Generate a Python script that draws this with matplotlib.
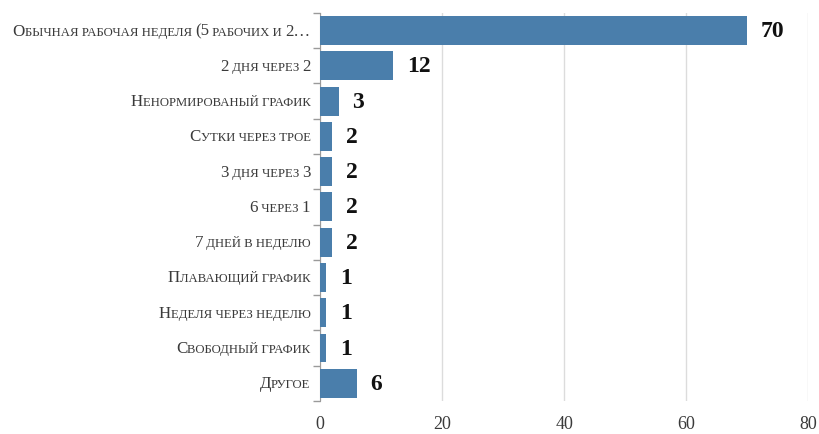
import numpy as np
import matplotlib.pyplot as plt
from matplotlib.offsetbox import TextArea, HPacker, AnnotationBbox

# Work schedule survey: number of answers per schedule type
categories = [
    "Обычная рабочая неделя (5 рабочих и 2…",
    "2 дня через 2",
    "Ненормированый график",
    "Сутки через трое",
    "3 дня через 3",
    "6 через 1",
    "7 дней в неделю",
    "Плавающий график",
    "Неделя через неделю",
    "Свободный график",
    "Другое",
]
values = [70, 12, 3, 2, 2, 2, 2, 1, 1, 1, 6]
x_ticks = [0, 20, 40, 60, 80]

SERIF = "Liberation Serif"
BAR_COLOR = "#4a7eab"
TEXT_COLOR = "#3a3a3a"


def small_caps(text, big=12.2, small=9.2):
    # split into runs: lowercase letters become smaller capitals
    runs = []
    for ch in text:
        is_small = ch.islower() or ch == " "
        if runs and runs[-1][1] == is_small:
            runs[-1][0] += ch
        else:
            runs.append([ch, is_small])
    boxes = [
        TextArea(s.upper(), textprops=dict(fontsize=small if sm else big,
                                           family=SERIF, color=TEXT_COLOR))
        for s, sm in runs
    ]
    return HPacker(children=boxes, align="baseline", pad=0, sep=0)


fig = plt.figure(figsize=(8.19, 4.35), dpi=100)
ax = fig.add_axes([0.391, 0.076, 0.596, 0.892])

y = np.arange(len(categories))
bars = ax.barh(y, values, height=0.82, color=BAR_COLOR, zorder=3)

for yi, v in zip(y, values):
    ax.text(v + 2.2, yi, str(v), va="center", ha="left", fontsize=17,
            fontweight="bold", family=SERIF, color="#111111", zorder=4)

for yi, name in zip(y, categories):
    ab = AnnotationBbox(small_caps(name), (0, yi),
                        xycoords=("axes fraction", "data"),
                        xybox=(-7, 0), boxcoords="offset points",
                        box_alignment=(1, 0.5), frameon=False,
                        annotation_clip=False)
    ax.add_artist(ab)

ax.set_xlim(0, 80)
ax.set_ylim(len(categories) - 0.5, -0.5)
ax.set_xticks(x_ticks)
ax.set_xticklabels([str(t) for t in x_ticks], fontsize=13, family=SERIF,
                   color=TEXT_COLOR)
ax.tick_params(axis="x", length=0, pad=10)

# category boundary ticks on the left axis line
ax.set_yticks([])
ax.set_yticks(np.arange(-0.5, len(categories)), minor=True)
ax.tick_params(axis="y", which="minor", length=5, color="#9a9a9a", width=1)

ax.grid(axis="x", color="#dcdcdc", linewidth=1, zorder=0)
for side in ["top", "right", "bottom"]:
    ax.spines[side].set_visible(False)
ax.spines["left"].set_color("#9a9a9a")

fig.savefig("out.png", dpi=100)
